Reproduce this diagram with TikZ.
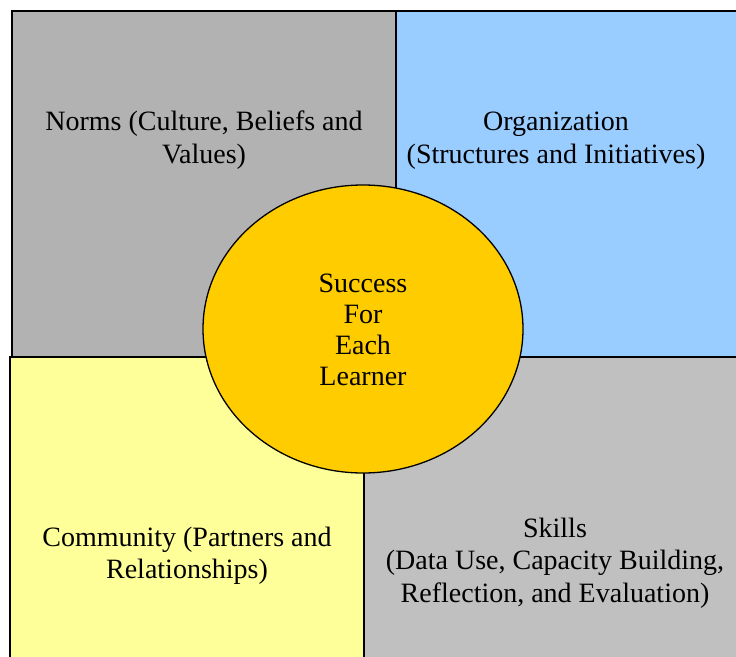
\documentclass[tikz,border=0pt]{standalone}
\usepackage{fontspec}
\setmainfont{Liberation Serif}
\usetikzlibrary{shapes.geometric}
\definecolor{normsgray}{HTML}{B2B2B2}
\definecolor{orgblue}{HTML}{99CCFF}
\definecolor{commyellow}{HTML}{FFFF99}
\definecolor{skillgray}{HTML}{C0C0C0}
\definecolor{gold}{HTML}{FFCC00}
\begin{document}
\begin{tikzpicture}[x=1pt,y=-1pt,
  panel/.style={draw=black,line width=1.3pt},
  label/.style={align=center,font=\rmfamily\fontsize{28}{32.5}\selectfont,inner sep=0pt}]
\useasboundingbox (0,0) rectangle (736,656);
\clip (0,0) rectangle (736,656);
\fill[white] (0,0) rectangle (736,656);
\draw[panel,fill=normsgray] (12,11) rectangle (396,357);
\draw[panel,fill=orgblue] (396,11) rectangle (760,357);
\draw[panel,fill=commyellow] (10,357) rectangle (364,690);
\draw[panel,fill=skillgray] (364,357) rectangle (760,690);
\node[draw=black,line width=1.3pt,fill=gold,ellipse,minimum width=320,minimum height=288,inner sep=0pt] (center) at (363,329) {};
\node[label] (norms) at (204,140) {Norms (Culture, Beliefs and\\Values)};
\node[label] (org) at (556,140.5) {Organization\\(Structures and Initiatives)};
\node[label] (comm) at (187,556) {Community (Partners and\\Relationships)};
\node[label] (skills) at (555,563) {Skills\\(Data Use, Capacity Building,\\Reflection, and Evaluation)};
\node[label,font=\rmfamily\fontsize{28}{31}\selectfont] (success) at (363,329.5) {Success\\For\\Each\\Learner};
\end{tikzpicture}
\end{document}
